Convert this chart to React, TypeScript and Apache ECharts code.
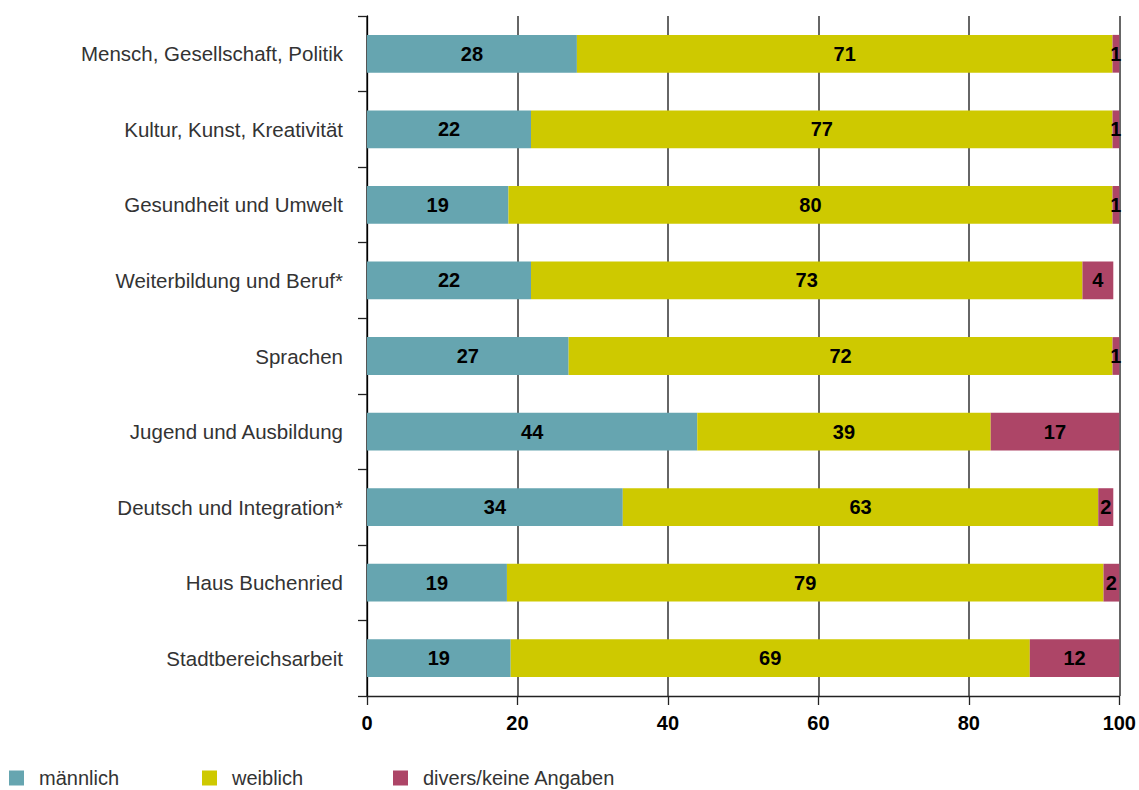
import React, { useEffect, useRef } from "react";
import * as echarts from "echarts";

const categories = [
  "Mensch, Gesellschaft, Politik",
  "Kultur, Kunst, Kreativität",
  "Gesundheit und Umwelt",
  "Weiterbildung und Beruf*",
  "Sprachen",
  "Jugend und Ausbildung",
  "Deutsch und Integration*",
  "Haus Buchenried",
  "Stadtbereichsarbeit",
];
const maleValues = [27.9, 21.8, 18.8, 21.8, 26.8, 43.9, 34.0, 18.6, 19.1];
const femaleValues = [71.2, 77.3, 80.3, 73.3, 72.3, 39.0, 63.2, 79.3, 69.0];
const diversValues = [0.9, 0.9, 0.9, 4.1, 0.9, 17.1, 2.0, 2.1, 11.9];
const seriesNames = ["männlich", "weiblich", "divers/keine Angaben"];
const colors = ["#66a5b0", "#cec900", "#ad4567"];
const xTicks = [0, 20, 40, 60, 80, 100];

const FONT = "'Liberation Sans', Arial, sans-serif";

export default function App() {
  const ref = useRef<HTMLDivElement>(null);
  useEffect(() => {
    if (!ref.current) return;
    const chart = echarts.init(ref.current, null, { renderer: "svg" });
    const label = {
      show: true,
      position: "inside",
      color: "#000",
      fontWeight: "bold",
      fontSize: 20,
      fontFamily: FONT,
      formatter: (p: any) => String(Math.round(p.value)),
    };
    const data = [maleValues, femaleValues, diversValues];
    const legendLeft = [9, 202, 393];
    chart.setOption({
      animation: false,
      textStyle: { fontFamily: FONT },
      grid: { left: 367, right: 18, top: 16, bottom: 94, containLabel: false },
      legend: seriesNames.map((n, i) => ({
        data: [n],
        left: legendLeft[i],
        top: 768,
        padding: 0,
        itemWidth: 15,
        itemHeight: 15,
        icon: "rect",
        textStyle: { fontSize: 20, color: "#333", fontFamily: FONT, padding: [0, 0, 0, 10] },
        selectedMode: false,
      })),
      xAxis: {
        type: "value",
        min: xTicks[0],
        max: xTicks[xTicks.length - 1],
        interval: 20,
        axisLine: { show: true, lineStyle: { color: "#222", width: 1.3 } },
        axisTick: { show: true, length: 9, lineStyle: { color: "#222", width: 1.3 } },
        axisLabel: { color: "#000", fontWeight: "bold", fontSize: 20, margin: 17, fontFamily: FONT },
        splitLine: { show: true, lineStyle: { color: "#333", width: 1.5 } },
      },
      yAxis: {
        type: "category",
        data: categories,
        inverse: true,
        axisLine: { show: true, lineStyle: { color: "#000", width: 1.3 } },
        axisTick: { show: true, length: 9, lineStyle: { color: "#222", width: 1.3 } },
        axisLabel: { color: "#333", fontSize: 20.5, margin: 24, fontFamily: FONT },
      },
      series: seriesNames.map((n, i) => ({
        name: n,
        type: "bar",
        stack: "total",
        data: data[i],
        barWidth: "50%",
        itemStyle: { color: colors[i] },
        label,
      })),
    });
    return () => chart.dispose();
  }, []);
  return <div ref={ref} style={{ width: 1139, height: 790, position: "absolute", left: 0, top: 0 }} />;
}
